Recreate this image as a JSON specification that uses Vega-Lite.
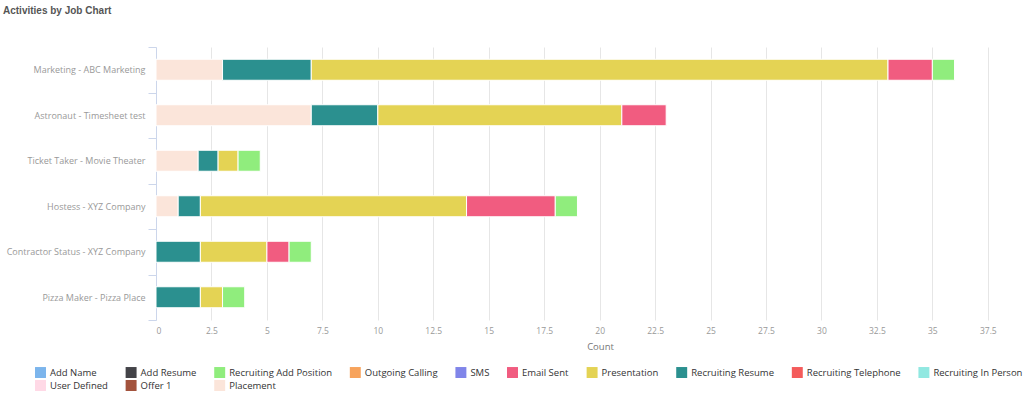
{
  "$schema": "https://vega.github.io/schema/vega-lite/v6.json",
  "autosize": "none",
  "width": 854,
  "height": 273,
  "padding": {"left": 156, "top": 47, "right": 14, "bottom": 78},
  "background": "white",
  "title": {"text": "Activities by Job Chart", "anchor": "start", "frame": "group", "dx": -153, "dy": -23, "font": "Liberation Sans", "fontSize": 10, "fontWeight": "bold", "color": "#555555"},
  "config": {"view": {"stroke": null}},
  "data": {"values": [
    {"job": "Marketing - ABC Marketing", "activity": "Placement", "count": 3},
    {"job": "Marketing - ABC Marketing", "activity": "Recruiting Resume", "count": 4},
    {"job": "Marketing - ABC Marketing", "activity": "Presentation", "count": 26},
    {"job": "Marketing - ABC Marketing", "activity": "Email Sent", "count": 2},
    {"job": "Marketing - ABC Marketing", "activity": "Recruiting Add Position", "count": 1},
    {"job": "Astronaut - Timesheet test", "activity": "Placement", "count": 7},
    {"job": "Astronaut - Timesheet test", "activity": "Recruiting Resume", "count": 3},
    {"job": "Astronaut - Timesheet test", "activity": "Presentation", "count": 11},
    {"job": "Astronaut - Timesheet test", "activity": "Email Sent", "count": 2},
    {"job": "Ticket Taker - Movie Theater", "activity": "Placement", "count": 1.9},
    {"job": "Ticket Taker - Movie Theater", "activity": "Recruiting Resume", "count": 0.9},
    {"job": "Ticket Taker - Movie Theater", "activity": "Presentation", "count": 0.9},
    {"job": "Ticket Taker - Movie Theater", "activity": "Recruiting Add Position", "count": 1},
    {"job": "Hostess - XYZ Company", "activity": "Placement", "count": 1},
    {"job": "Hostess - XYZ Company", "activity": "Recruiting Resume", "count": 1},
    {"job": "Hostess - XYZ Company", "activity": "Presentation", "count": 12},
    {"job": "Hostess - XYZ Company", "activity": "Email Sent", "count": 4},
    {"job": "Hostess - XYZ Company", "activity": "Recruiting Add Position", "count": 1},
    {"job": "Contractor Status - XYZ Company", "activity": "Recruiting Resume", "count": 2},
    {"job": "Contractor Status - XYZ Company", "activity": "Presentation", "count": 3},
    {"job": "Contractor Status - XYZ Company", "activity": "Email Sent", "count": 1},
    {"job": "Contractor Status - XYZ Company", "activity": "Recruiting Add Position", "count": 1},
    {"job": "Pizza Maker - Pizza Place", "activity": "Recruiting Resume", "count": 2},
    {"job": "Pizza Maker - Pizza Place", "activity": "Presentation", "count": 1},
    {"job": "Pizza Maker - Pizza Place", "activity": "Recruiting Add Position", "count": 1}
  ]},
  "transform": [{"window": [{"op": "row_number", "as": "rownum"}]}],
  "mark": {"type": "bar", "size": 21, "stroke": "white", "strokeWidth": 1},
  "encoding": {
    "y": {
      "field": "job", "type": "nominal", "sort": null,
      "scale": {"paddingInner": 0, "paddingOuter": 0},
      "axis": {"title": null, "domain": true, "domainColor": "#ccd6eb", "ticks": true, "tickColor": "#ccd6eb", "tickSize": 8, "tickBand": "extent", "grid": false, "labelFont": "Open Sans", "labelFontSize": 9, "labelColor": "#999999", "labelPadding": 3}
    },
    "x": {
      "field": "count", "type": "quantitative", "stack": "zero",
      "scale": {"domain": [0, 38.5], "nice": false},
      "axis": {"title": "Count", "values": [0, 2.5, 5, 7.5, 10, 12.5, 15, 17.5, 20, 22.5, 25, 27.5, 30, 32.5, 35, 37.5], "format": ".1~f", "domain": false, "ticks": false, "grid": true, "gridColor": "#e6e6e6", "labelFont": "Open Sans", "labelFontSize": 8.5, "labelColor": "#999999", "labelPadding": 6, "titleFont": "Open Sans", "titleFontSize": 9.5, "titleFontWeight": "normal", "titleColor": "#777777", "titleX": 444, "titleY": 26, "titleBaseline": "middle"}
    },
    "order": {"field": "rownum", "type": "quantitative"},
    "color": {
      "field": "activity", "type": "nominal",
      "scale": {
        "domain": ["Add Name", "Add Resume", "Recruiting Add Position", "Outgoing Calling", "SMS", "Email Sent", "Presentation", "Recruiting Resume", "Recruiting Telephone", "Recruiting In Person", "User Defined", "Offer 1", "Placement"],
        "range": ["#7cb5ec", "#434348", "#90ed7d", "#f7a35c", "#8085e9", "#f15c80", "#e4d354", "#2b908f", "#f45b5b", "#91e8e1", "#ffd9e6", "#a3533d", "#fbe5da"]
      },
      "legend": {"title": null, "orient": "none", "legendX": -121, "legendY": 320, "direction": "horizontal", "columns": 10, "symbolType": "square", "symbolSize": 120, "symbolStrokeWidth": 0, "labelFont": "Open Sans", "labelFontSize": 9.5, "labelColor": "#333333", "labelOffset": 4, "columnPadding": 17.6, "rowPadding": 2, "labelLimit": 300}
    }
  }
}
